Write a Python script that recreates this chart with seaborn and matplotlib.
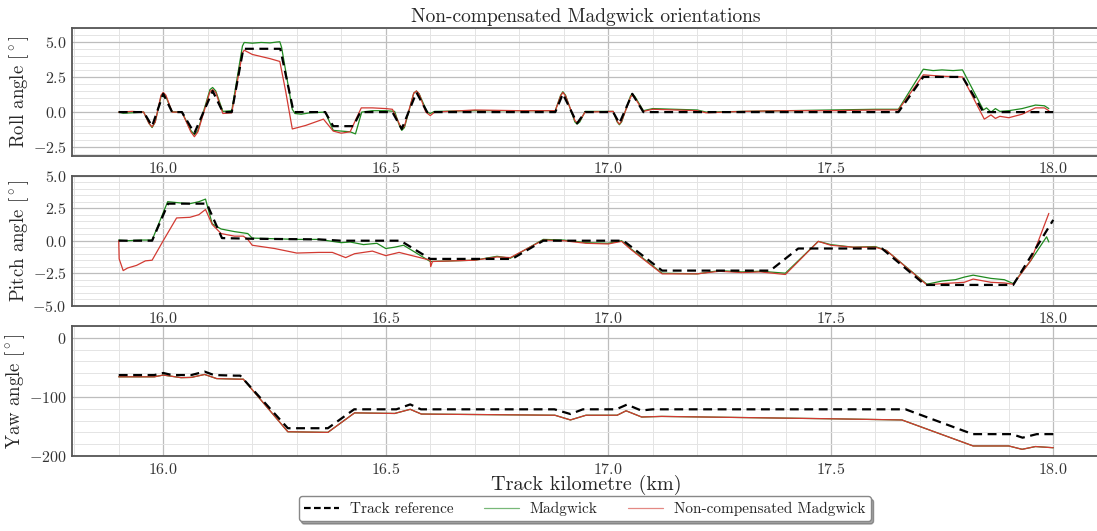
import matplotlib
matplotlib.use("Agg")
import matplotlib.pyplot as plt
from matplotlib.ticker import AutoMinorLocator, FixedLocator
from matplotlib.lines import Line2D
import seaborn as sns

# ---- Roll (deg) ----
roll_ref_km = [15.90, 15.956, 15.975, 16.000, 16.020, 16.042, 16.070, 16.111, 16.134, 16.154,
               16.180, 16.263, 16.293, 16.364, 16.382, 16.427, 16.443, 16.515, 16.536, 16.569,
               16.593, 16.881, 16.898, 16.930, 16.948, 17.011, 17.025, 17.054, 17.079, 17.652,
               17.708, 17.796, 17.843, 18.000]
roll_ref = [0.0, 0.0, -1.0, 1.3, 0.0, 0.0, -1.5, 1.5, 0.0, 0.0,
            4.5, 4.5, 0.0, 0.0, -1.0, -1.0, 0.0, 0.0, -1.2, 1.4,
            0.0, 0.0, 1.3, -0.8, 0.0, 0.0, -0.8, 1.3, 0.0, 0.0,
            2.5, 2.5, 0.0, 0.0]

roll_mad_km = [15.90, 15.91, 15.93, 15.956, 15.968, 15.975, 15.982, 15.995, 16.000, 16.006,
               16.020, 16.042, 16.062, 16.070, 16.078, 16.105, 16.111, 16.118, 16.134, 16.154,
               16.178, 16.182, 16.200, 16.220, 16.240, 16.255, 16.262, 16.266, 16.290, 16.296,
               16.310, 16.330, 16.364, 16.382, 16.400, 16.420, 16.432, 16.446, 16.470, 16.500,
               16.520, 16.530, 16.536, 16.542, 16.563, 16.569, 16.575, 16.593, 16.600, 16.610,
               16.700, 16.800, 16.881, 16.893, 16.898, 16.904, 16.925, 16.930, 16.936, 16.948,
               17.011, 17.020, 17.025, 17.030, 17.050, 17.054, 17.060, 17.079, 17.100, 17.150,
               17.200, 17.220, 17.300, 17.400, 17.500, 17.600, 17.652, 17.708, 17.730, 17.750,
               17.775, 17.796, 17.843, 17.850, 17.860, 17.870, 17.880, 17.900, 17.930, 17.960,
               17.980, 17.990]
roll_mad = [0.0, -0.08, -0.05, 0.0, -0.8, -1.1, -0.7, 1.1, 1.35, 1.1,
            0.02, 0.0, -1.3, -1.6, -1.3, 1.6, 1.75, 1.5, 0.05, 0.1,
            4.7, 4.95, 4.9, 4.95, 4.92, 4.98, 5.0, 4.6, 0.2, -0.1,
            -0.15, -0.05, 0.0, -1.3, -1.35, -1.4, -1.55, 0.0, 0.1, 0.1,
            0.05, -0.9, -1.3, -1.1, 1.35, 1.5, 1.3, 0.0, -0.1, 0.05,
            0.1, 0.1, 0.1, 1.2, 1.45, 1.2, -0.7, -0.85, -0.7, 0.05,
            0.05, -0.7, -0.9, -0.7, 1.15, 1.3, 1.1, 0.1, 0.25, 0.2,
            0.15, 0.0, 0.05, 0.1, 0.15, 0.2, 0.2, 3.05, 2.95, 3.0,
            2.95, 3.0, 0.15, 0.3, 0.0, 0.25, 0.05, 0.1, 0.25, 0.5,
            0.45, 0.25]

roll_nc_km = [15.90, 15.93, 15.956, 15.968, 15.975, 15.982, 15.995, 16.000, 16.006, 16.020,
              16.042, 16.062, 16.070, 16.078, 16.105, 16.111, 16.118, 16.134, 16.154, 16.178,
              16.182, 16.200, 16.220, 16.240, 16.262, 16.275, 16.290, 16.320, 16.360, 16.382,
              16.400, 16.420, 16.445, 16.470, 16.500, 16.515, 16.530, 16.536, 16.542, 16.563,
              16.569, 16.575, 16.590, 16.600, 16.610, 16.700, 16.800, 16.881, 16.893, 16.898,
              16.904, 16.925, 16.930, 16.936, 16.948, 17.011, 17.020, 17.025, 17.030, 17.050,
              17.054, 17.060, 17.079, 17.100, 17.150, 17.200, 17.220, 17.300, 17.400, 17.500,
              17.600, 17.652, 17.708, 17.750, 17.796, 17.845, 17.860, 17.870, 17.880, 17.900,
              17.930, 17.960, 17.980, 17.990]
roll_nc = [0.0, 0.05, 0.0, -0.8, -1.05, -0.7, 1.2, 1.4, 1.2, 0.0,
           0.0, -1.4, -1.75, -1.4, 1.45, 1.6, 1.4, -0.1, -0.05, 4.2,
           4.4, 4.1, 3.95, 3.8, 3.6, 1.5, -1.2, -0.95, -0.5, -1.35,
           -1.5, -1.4, 0.3, 0.3, 0.25, 0.2, -0.8, -1.2, -1.0, 1.35,
           1.5, 1.3, 0.0, -0.25, 0.0, 0.15, 0.1, 0.1, 1.15, 1.4,
           1.15, -0.6, -0.75, -0.6, 0.0, 0.05, -0.65, -0.85, -0.65, 1.05,
           1.2, 1.0, 0.05, 0.2, 0.15, 0.1, -0.05, 0.05, 0.1, 0.1,
           0.15, 0.15, 2.65, 2.55, 2.5, -0.5, -0.2, -0.45, -0.3, -0.4,
           -0.15, 0.3, 0.3, 0.1]

# ---- Pitch (deg) ----
pitch_ref_km = [15.90, 15.975, 16.011, 16.098, 16.132, 16.200, 16.350, 16.400, 16.533, 16.600,
                16.784, 16.854, 17.034, 17.121, 17.364, 17.427, 17.615, 17.712, 17.910, 18.000]
pitch_ref = [0.0, 0.0, 2.85, 2.85, 0.2, 0.15, 0.1, 0.0, 0.0, -1.4,
             -1.4, 0.0, 0.0, -2.3, -2.3, -0.6, -0.6, -3.4, -3.4, 1.6]

pitch_mad_km = [15.90, 15.92, 15.95, 15.975, 16.010, 16.040, 16.060, 16.080, 16.095, 16.110,
                16.130, 16.160, 16.190, 16.200, 16.250, 16.300, 16.350, 16.400, 16.420, 16.450,
                16.480, 16.500, 16.520, 16.540, 16.600, 16.650, 16.700, 16.750, 16.780, 16.854,
                16.900, 16.950, 17.000, 17.030, 17.050, 17.121, 17.200, 17.250, 17.300, 17.342,
                17.398, 17.472, 17.500, 17.550, 17.600, 17.625, 17.716, 17.750, 17.780, 17.800,
                17.820, 17.860, 17.890, 17.910, 17.950, 17.985, 17.990]
pitch_mad = [0.05, 0.0, 0.05, 0.05, 3.0, 2.9, 2.85, 3.0, 3.2, 1.3,
             0.9, 0.7, 0.55, 0.2, 0.15, 0.1, 0.1, -0.15, -0.1, -0.3,
             -0.2, -0.6, -0.5, -0.35, -1.6, -1.55, -1.5, -1.2, -1.35, 0.1,
             0.05, -0.15, -0.2, 0.0, -0.6, -2.5, -2.55, -2.3, -2.4, -2.35,
             -2.5, -0.05, -0.3, -0.5, -0.45, -0.75, -3.35, -3.1, -3.0, -2.8,
             -2.65, -2.9, -3.0, -3.3, -1.5, 0.3, -0.1]

pitch_nc_km = [15.900, 15.901, 15.910, 15.920, 15.940, 15.960, 15.975, 16.000, 16.030, 16.060,
               16.080, 16.095, 16.110, 16.130, 16.160, 16.180, 16.190, 16.200, 16.250, 16.300,
               16.350, 16.380, 16.410, 16.430, 16.470, 16.500, 16.530, 16.600, 16.601, 16.605,
               16.650, 16.700, 16.750, 16.780, 16.854, 16.900, 16.950, 17.000, 17.030, 17.050,
               17.121, 17.200, 17.250, 17.300, 17.342, 17.398, 17.472, 17.500, 17.550, 17.600,
               17.625, 17.716, 17.750, 17.800, 17.820, 17.860, 17.890, 17.910, 17.950, 17.990]
pitch_nc = [0.0, -1.4, -2.3, -2.1, -1.9, -1.55, -1.5, 0.0, 1.75, 1.8,
            2.0, 2.4, 1.25, 0.55, 0.35, 0.35, 0.1, -0.35, -0.6, -0.95,
            -0.9, -0.9, -1.3, -1.0, -0.8, -1.15, -0.9, -1.5, -2.0, -1.6,
            -1.55, -1.5, -1.25, -1.3, 0.05, 0.0, -0.2, -0.25, -0.05, -0.65,
            -2.55, -2.55, -2.35, -2.45, -2.4, -2.6, -0.05, -0.35, -0.5, -0.5,
            -0.75, -3.4, -3.3, -3.2, -2.95, -3.2, -3.25, -3.35, -1.5, 2.1]

# ---- Yaw (deg) ----
yaw_ref_km = [15.90, 15.980, 16.000, 16.020, 16.063, 16.093, 16.114, 16.161, 16.173, 16.280,
              16.370, 16.429, 16.524, 16.555, 16.579, 16.879, 16.915, 16.943, 17.018, 17.042,
              17.074, 17.100, 17.668, 17.819, 17.907, 17.931, 17.963, 18.000]
yaw_ref = [-63, -63, -59.5, -63, -63, -57.2, -63, -64, -64, -153,
           -153, -121, -121, -112.7, -121, -121, -129, -121, -121, -113,
           -123, -121, -121, -163, -163, -169, -163, -163]

yaw_nc_km = [15.90, 15.980, 16.000, 16.040, 16.063, 16.093, 16.120, 16.170, 16.180, 16.280,
             16.370, 16.430, 16.520, 16.555, 16.580, 16.880, 16.915, 16.950, 17.020, 17.040,
             17.075, 17.120, 17.500, 17.660, 17.820, 17.900, 17.930, 17.960, 18.000]
yaw_nc = [-66, -66, -63, -67.4, -67, -62, -69, -70, -70, -159,
          -160, -127, -128, -121, -129, -131, -139, -131, -131, -123.5,
          -134, -133, -137, -139, -183, -183, -188.7, -184, -186]
# the compensated filter tracks the non-compensated one in yaw
yaw_mad_km = yaw_nc_km
yaw_mad = yaw_nc

C_REF = "black"
C_MAD = "#1f8a1f"
C_NC = "#d23a32"

sns.set_theme(style="whitegrid")
plt.rcParams.update({
    "font.family": "serif",
    "font.serif": ["cmr10"],
    "mathtext.fontset": "cm",
    "axes.formatter.use_mathtext": True,
    "axes.unicode_minus": True,
})

fig = plt.figure(figsize=(10.97, 5.31), dpi=100)
left, width = 72 / 1097, (1100 - 72) / 1097
ax_roll = fig.add_axes([left, 1 - 155.7 / 531, width, 128 / 531])
ax_pitch = fig.add_axes([left, 1 - 305.7 / 531, width, 130 / 531])
ax_yaw = fig.add_axes([left, 1 - 456 / 531, width, 130 / 531])


def draw(ax, ref_km, ref, mad_km, mad, nc_km, nc):
    sns.lineplot(x=ref_km, y=ref, ax=ax, color=C_REF, lw=1.6, linestyle=(0, (4, 2.5)),
                 sort=False, estimator=None, zorder=4)
    sns.lineplot(x=mad_km, y=mad, ax=ax, color=C_MAD, lw=0.9, sort=False, estimator=None, zorder=3)
    sns.lineplot(x=nc_km, y=nc, ax=ax, color=C_NC, lw=0.9, sort=False, estimator=None, zorder=3)


draw(ax_roll, roll_ref_km, roll_ref, roll_mad_km, roll_mad, roll_nc_km, roll_nc)
draw(ax_pitch, pitch_ref_km, pitch_ref, pitch_mad_km, pitch_mad, pitch_nc_km, pitch_nc)
draw(ax_yaw, yaw_ref_km, yaw_ref, yaw_mad_km, yaw_mad, yaw_nc_km, yaw_nc)

settings = [
    (ax_roll, (-3.1, 6.0), [-2.5, 0.0, 2.5, 5.0], r"Roll angle [$^\circ$]"),
    (ax_pitch, (-5.0, 5.0), [-5.0, -2.5, 0.0, 2.5, 5.0], r"Pitch angle [$^\circ$]"),
    (ax_yaw, (-200, 20), [-200, -100, 0], r"Yaw angle [$^\circ$]"),
]
for ax, ylim, yt, ylab in settings:
    ax.set_xlim(15.795, 18.105)
    ax.set_ylim(*ylim)
    ax.xaxis.set_major_locator(FixedLocator([16.0, 16.5, 17.0, 17.5, 18.0]))
    ax.yaxis.set_major_locator(FixedLocator(yt))
    ax.xaxis.set_minor_locator(AutoMinorLocator(5))
    ax.yaxis.set_minor_locator(AutoMinorLocator(5))
    ax.grid(True, which="major", color="#bdbdbd", lw=0.9)
    ax.grid(True, which="minor", color="#e4e4e4", lw=0.7)
    ax.set_facecolor("white")
    ax.tick_params(axis="both", which="both", length=0, labelsize=11.5, pad=4, colors="#333333")
    for s in ["left", "top", "bottom"]:
        ax.spines[s].set_color("#555555")
        ax.spines[s].set_linewidth(1.3)
    ax.spines["right"].set_visible(False)
    ax.set_ylabel(ylab, fontsize=13.5, labelpad=1)
    ax.set_xlabel("")

ax_roll.set_title("Non-compensated Madgwick orientations", fontsize=14, pad=4)
ax_yaw.set_xlabel("Track kilometre (km)", fontsize=14.5, labelpad=-1)

handles = [
    Line2D([], [], color=C_REF, lw=1.6, linestyle=(0, (3, 1.5))),
    Line2D([], [], color=C_MAD, lw=0.9, alpha=0.6),
    Line2D([], [], color=C_NC, lw=0.9, alpha=0.6),
]
fig.legend(handles, ["Track reference", "Madgwick", "Non-compensated Madgwick"],
           loc="lower center", bbox_to_anchor=(0.533, 0.004), ncol=3, fontsize=11,
           frameon=True, fancybox=True, shadow=True, framealpha=1, edgecolor="#888888",
           columnspacing=2.0, handlelength=2.3, handletextpad=0.7, borderpad=0.35)

fig.savefig("out.png", dpi=100)
